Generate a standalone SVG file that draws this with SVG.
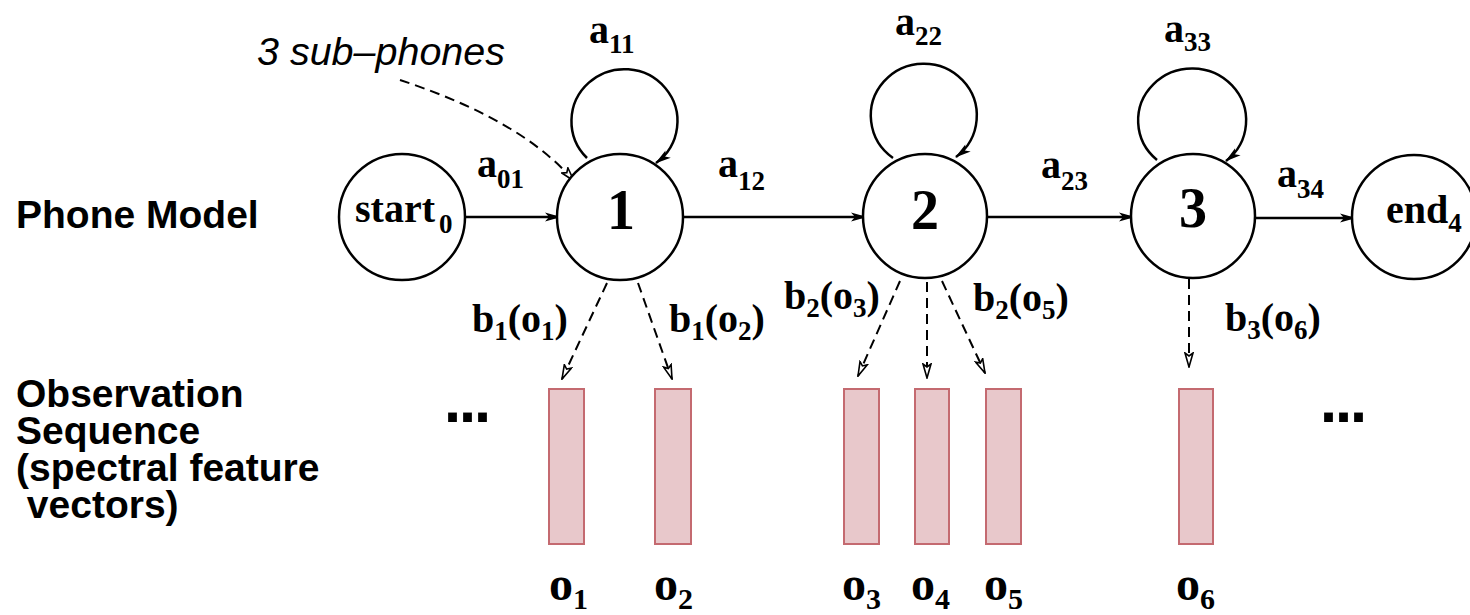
<svg xmlns="http://www.w3.org/2000/svg" width="1470" height="615" viewBox="0 0 1470 615">
<style>
.st{fill:#fff;stroke:#000;stroke-width:2.5}
.t{font-family:"Liberation Serif","Times New Roman",serif;font-weight:bold;font-size:40px;fill:#000}
.s{font-size:27px}
.num{font-family:"Liberation Serif","Times New Roman",serif;font-weight:bold;font-size:56px;text-anchor:middle}
.lab{font-family:"Liberation Sans",Arial,sans-serif;font-weight:bold;font-size:39px}
.it{font-family:"Liberation Sans",Arial,sans-serif;font-style:italic;font-size:39px}
.obs{fill:#e8c8cb;stroke:#c46a70;stroke-width:2}
.ot{font-family:"Liberation Serif","Times New Roman",serif;font-weight:bold;font-size:48px}
.os{font-size:30px}
.e{fill:none;stroke:#000;stroke-width:2.5;marker-end:url(#ah)}
.d{fill:none;stroke:#000;stroke-width:2;stroke-dasharray:10 6;marker-end:url(#ad)}
.dots{font-family:"DejaVu Sans",sans-serif;font-weight:bold;font-size:50px;letter-spacing:-4px}
</style>
<defs>
<marker id="ah" viewBox="0 0 16 10" refX="15" refY="5" markerWidth="17" markerHeight="10" markerUnits="userSpaceOnUse" orient="auto">
<path d="M0,0.5 L16,5 L0,9.5 L4,5 Z" fill="#000"/>
</marker>
<marker id="ad" viewBox="0 0 16 10" refX="15" refY="5" markerWidth="16" markerHeight="10" markerUnits="userSpaceOnUse" orient="auto">
<path d="M1,1 L15,5 L1,9 L4,5 Z" fill="#fff" stroke="#000" stroke-width="1.6" stroke-linejoin="miter"/>
</marker>
</defs>
<rect width="1470" height="615" fill="#fff"/>

<g id="labels">
<text class="lab" x="16" y="228">Phone Model</text>
<text class="lab" x="16" y="407">Observation</text>
<text class="lab" x="16" y="444">Sequence</text>
<text class="lab" x="16" y="481">(spectral feature</text>
<text class="lab" x="16" y="518" xml:space="preserve"> vectors)</text>
<text class="it" x="257" y="65" textLength="248" lengthAdjust="spacingAndGlyphs">3 sub–phones</text>
</g>

<g id="connectors">
<path class="e" d="M465 217 L560 217"/>
<path class="e" d="M683 217 L866 217"/>
<path class="e" d="M987 217 L1134 217"/>
<path class="e" d="M1255 218 L1355 218"/>
<path class="e" d="M587 158 A53 52 0 1 1 656 163"/>
<path class="e" d="M893 158 A53 52 0 1 1 956 157"/>
<path class="e" d="M1157 160 A54 52 0 1 1 1226 161"/>
<path class="d" d="M400 80 C460 100 530 130 574 181"/>
<path class="d" d="M607 283 L562 379"/>
<path class="d" d="M638 283 L672 379"/>
<path class="d" d="M900 281 L858 376"/>
<path class="d" d="M927 282 L927 378"/>
<path class="d" d="M942 281 L985 373"/>
<path class="d" d="M1189 279 L1189 367"/>
<text class="t" x="477" y="177">a<tspan class="s" dy="11">01</tspan></text>
<text class="t" x="589" y="43">a<tspan class="s" dy="10">11</tspan></text>
<text class="t" x="718" y="177">a<tspan class="s" dy="13">12</tspan></text>
<text class="t" x="895" y="35">a<tspan class="s" dy="10">22</tspan></text>
<text class="t" x="1041" y="178">a<tspan class="s" dy="12">23</tspan></text>
<text class="t" x="1164" y="42">a<tspan class="s" dy="9">33</tspan></text>
<text class="t" x="1277" y="187">a<tspan class="s" dy="11">34</tspan></text>
<text class="t" x="472" y="332">b<tspan class="s" dy="8">1</tspan><tspan dy="-8">(o</tspan><tspan class="s" dy="8">1</tspan><tspan dy="-8">)</tspan></text>
<text class="t" x="669" y="332">b<tspan class="s" dy="8">1</tspan><tspan dy="-8">(o</tspan><tspan class="s" dy="8">2</tspan><tspan dy="-8">)</tspan></text>
<text class="t" x="784" y="309">b<tspan class="s" dy="8">2</tspan><tspan dy="-8">(o</tspan><tspan class="s" dy="8">3</tspan><tspan dy="-8">)</tspan></text>
<text class="t" x="973" y="311">b<tspan class="s" dy="8">2</tspan><tspan dy="-8">(o</tspan><tspan class="s" dy="8">5</tspan><tspan dy="-8">)</tspan></text>
<text class="t" x="1225" y="331">b<tspan class="s" dy="8">3</tspan><tspan dy="-8">(o</tspan><tspan class="s" dy="8">6</tspan><tspan dy="-8">)</tspan></text>
</g>

<g id="start">
<circle class="st" cx="402" cy="217" r="63"/>
<text class="t" x="355" y="222">start<tspan class="s" dx="4" dy="11">0</tspan></text>
</g>
<g id="state1">
<circle class="st" cx="620" cy="217" r="63"/>
<text class="num" x="621" y="229">1</text>
</g>
<g id="state2">
<circle class="st" cx="925" cy="216" r="62"/>
<text class="num" x="925" y="229">2</text>
</g>
<g id="state3">
<circle class="st" cx="1193" cy="216" r="62"/>
<text class="num" x="1193" y="227">3</text>
</g>
<g id="end">
<circle class="st" cx="1414" cy="217" r="62"/>
<text class="t" x="1386" y="223">end<tspan class="s" dy="9">4</tspan></text>
</g>

<g id="o1"><rect class="obs" x="549" y="389" width="35" height="155"/><text class="ot" x="549" y="600">o<tspan class="os" dy="9">1</tspan></text></g>
<g id="o2"><rect class="obs" x="655" y="389" width="36" height="155"/><text class="ot" x="654" y="600">o<tspan class="os" dy="9">2</tspan></text></g>
<g id="o3"><rect class="obs" x="844" y="389" width="35" height="155"/><text class="ot" x="842" y="600">o<tspan class="os" dy="9">3</tspan></text></g>
<g id="o4"><rect class="obs" x="915" y="389" width="34" height="155"/><text class="ot" x="911" y="600">o<tspan class="os" dy="9">4</tspan></text></g>
<g id="o5"><rect class="obs" x="986" y="389" width="35" height="155"/><text class="ot" x="984" y="600">o<tspan class="os" dy="9">5</tspan></text></g>
<g id="o6"><rect class="obs" x="1179" y="389" width="34" height="155"/><text class="ot" x="1176" y="600">o<tspan class="os" dy="9">6</tspan></text></g>

<g id="ellipsis-left"><text class="dots" x="443" y="422">...</text></g>
<g id="ellipsis-right"><text class="dots" x="1319" y="422">...</text></g>
</svg>
